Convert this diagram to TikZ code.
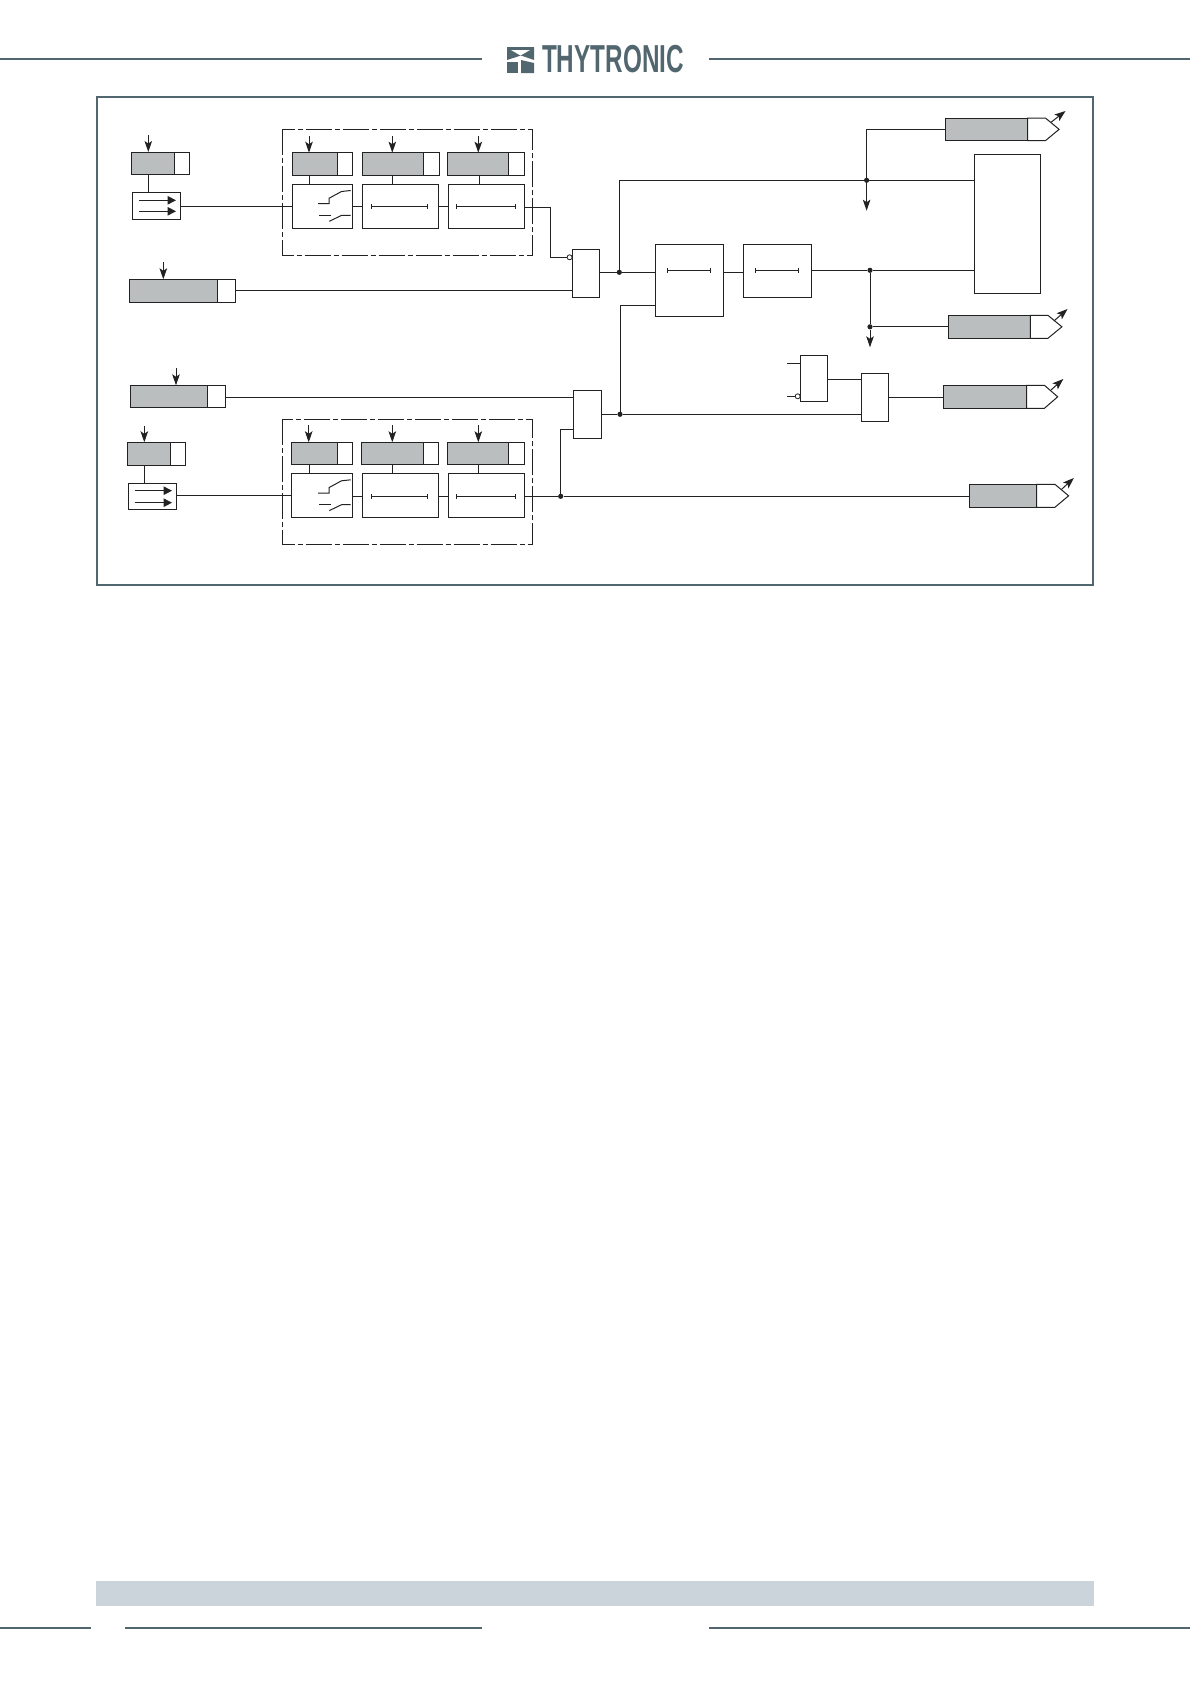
\documentclass[tikz,border=0pt]{standalone}
\usepackage{fontspec}
\setmainfont{Liberation Sans}
\usetikzlibrary{arrows.meta}
\definecolor{slate}{HTML}{51666F}
\definecolor{ink}{HTML}{222222}
\definecolor{midgray}{HTML}{BBBEBE}
\definecolor{barcol}{HTML}{CBD4DA}
\tikzset{
  wire/.style={draw=ink,line width=1pt},
  blockbox/.style={draw=ink,fill=white,line width=1pt,rectangle,inner sep=0pt,outer sep=0pt,anchor=north west},
  greybox/.style={blockbox,fill=midgray},
  downarrow/.style={wire,-{Stealth[length=11pt,width=7.5pt,inset=2.5pt]}},
  uparrow/.style={wire,-{Stealth[length=11pt,width=8pt,inset=2.5pt]}},
  innerarrow/.style={wire,-{Triangle[length=8.5pt,width=8.5pt]}},
  framerule/.style={draw=slate,line width=2pt},
  zone/.style={draw=ink,line width=1pt,dash pattern=on 26pt off 3pt on 5pt off 3pt},
  dotjoin/.style={circle,fill=ink,inner sep=0pt,minimum size=5.2pt},
  bubble/.style={circle,draw=ink,fill=white,line width=0.8pt,inner sep=0pt,minimum size=5pt}
}
% name x1 y1 x2 y2
\newcommand{\blk}[5]{\node[blockbox,minimum width={#4-#2},minimum height={#5-#3}] (#1) at (#2,#3) {};}
% name x1 xm x2 y1 y2
\newcommand{\param}[6]{%
  \node[blockbox,minimum width={#4-#3},minimum height={#6-#5}] (#1w) at (#3,#5) {};
  \node[greybox,minimum width={#3-#2},minimum height={#6-#5}] (#1) at (#2,#5) {};}
% name x1 xm x2 xtip y1 y2 : output block with pointed end
\newcommand{\outblk}[7]{%
  \node[greybox,minimum width={#3-#2},minimum height={#7-#6}] (#1) at (#2,#6) {};
  \coordinate (#1tip) at (#5,{(#6+#7)/2});
  \draw[wire,fill=white] (#3,#6) -- (#4,#6) -- (#1tip) -- (#4,#7) -- (#3,#7) -- cycle;}
% name x ytop : arrow down into block
\newcommand{\inarr}[3]{\coordinate (#1in) at (#2,#3); \draw[downarrow] (#1in) -- (#1in |- #1.north);}
% name x : stub from param block to block below
\newcommand{\stub}[3]{\coordinate (#1k) at (#2,0); \draw[wire] (#1k |- #1.south) -- (#1k |- #3.north);}
% name x1 x2 y : timer bar
\newcommand{\timer}[4]{\coordinate (#1a) at (#2,#4); \coordinate (#1b) at (#3,#4);
  \draw[wire,{Bar[width=5pt,length=0.9pt]}-{Bar[width=5pt,length=0.9pt]}] (#1a) -- (#1b);}
% dy : switch symbol, y offset
\newcommand{\switchsym}[2]{%
  \draw[wire] (#1+318,#2+203.7) -- (#1+329,#2+203.7) -- (#1+329,#2+198.3) -- (#1+341.5,#2+191.5) -- (#1+350.7,#2+190.5);
  \draw[wire] (#1+319,#2+215.3) -- (#1+330.7,#2+215.3);
  \draw[wire] (#1+329.3,#2+221.3) -- (#1+341.7,#2+215.3) -- (#1+350.7,#2+215.3);}
\begin{document}
\begin{tikzpicture}[x=1pt,y=-1pt]
\useasboundingbox[fill=white] (0,0) rectangle (1190,1684);

% page furniture
\coordinate (hla) at (0,59); \coordinate (hlb) at (482,59);
\coordinate (hra) at (709,59); \coordinate (hrb) at (1190,59);
\draw[framerule] (hla) -- (hlb);
\draw[framerule] (hra) -- (hrb);
\fill[slate] (507,47) -- (534,47) -- (534,60) -- (521,55.5) -- (507,60) -- cycle;
\fill[white] (511,50) -- (530,50) -- (520.5,55.5) -- cycle;
\fill[slate] (507,62) rectangle (518,73);
\fill[slate] (521,60) -- (534,63) -- (534,73) -- (521,73) -- cycle;
\node[anchor=center,text=slate,inner sep=0pt,xscale=0.623,font=\fontsize{39}{39}\selectfont\bfseries] (logotext) at (613,59.5) {THYTRONIC};
\draw[framerule] (97,96.7) rectangle (1093,585);
\fill[barcol] (95.6,1581) rectangle (1094,1606);
\draw[framerule] (0,1627.7) -- (91,1627.7);
\draw[framerule] (125,1627.7) -- (482,1627.7);
\draw[framerule] (709,1627.7) -- (1190,1627.7);

% dash-dot zones
\draw[zone] (282.7,129.3) rectangle (532.7,255.3);
\draw[zone] (282.7,419.3) rectangle (532.7,544.3);

% upper left
\param{Aa}{131.3}{174.3}{189.3}{152}{174.7}
\inarr{Aa}{148.3}{135}
\blk{Ba}{132.3}{192.3}{180.7}{219.3}
\stub{Aa}{148.3}{Ba}
\coordinate (Baone) at (139,200.3); \coordinate (Batwo) at (139,211.3);
\draw[innerarrow] (Baone) -- (176,200.3);
\draw[innerarrow] (Batwo) -- (176,211.3);

\param{Sa}{292.3}{337.3}{352.3}{152.7}{175.3}
\param{Sb}{362}{423.7}{439.3}{152.7}{175.3}
\param{Sc}{447.3}{508.7}{524.7}{152.7}{175.3}
\inarr{Sa}{309}{136}
\inarr{Sb}{392.3}{136}
\inarr{Sc}{478.3}{136}
\blk{Ca}{292.3}{184.3}{352.3}{228.3}
\blk{Cb}{362.3}{184.3}{438.3}{228.3}
\blk{Cc}{448.3}{184.3}{524.7}{228.3}
\stub{Sa}{309.3}{Ca}
\stub{Sb}{392.3}{Cb}
\stub{Sc}{479.3}{Cc}
\switchsym{0}{0}
\timer{Tb}{370.7}{427.7}{206.3}
\timer{Tc}{456.3}{515.7}{206.3}

% second setting
\param{Da}{129.3}{217.7}{235.7}{279.3}{302.3}
\inarr{Da}{163.3}{262.3}

% gate 1
\blk{Ga}{572.3}{249.3}{599.6}{297.3}
\node[bubble] (Gabub) at (569.6,257.3) {};

% third setting
\param{Db}{130.3}{207.7}{225.7}{385.3}{407.7}
\inarr{Db}{176}{368.3}

% lower left
\param{Ab}{127.3}{170.3}{185.7}{442.3}{465.3}
\inarr{Ab}{144.3}{425.7}
\blk{Bb}{128.3}{483.3}{176.7}{509.7}
\stub{Ab}{144.3}{Bb}
\coordinate (Bbone) at (134.7,490.7); \coordinate (Bbtwo) at (134.7,502.7);
\draw[innerarrow] (Bbone) -- (172,490.7);
\draw[innerarrow] (Bbtwo) -- (172,502.7);

\param{Sd}{291.3}{337}{352.3}{442.3}{464.7}
\param{Se}{361.7}{423.7}{438.7}{442.3}{464.7}
\param{Sf}{447.3}{508.7}{524.7}{442.3}{464.7}
\inarr{Sd}{308.7}{425}
\inarr{Se}{392.3}{425}
\inarr{Sf}{478.3}{425}
\blk{Cd}{291.3}{473.3}{352.3}{517.3}
\blk{Ce}{362.3}{473.3}{438.3}{517.3}
\blk{Cf}{448.3}{473.3}{524.7}{517.3}
\stub{Sd}{309.3}{Cd}
\stub{Se}{392.3}{Ce}
\stub{Sf}{478.3}{Cf}
\switchsym{0}{289.3}
\timer{Te}{370.7}{427.7}{496.3}
\timer{Tf}{456.3}{515.7}{496.3}

% gate 2 and central blocks
\blk{Gb}{573.3}{390.3}{601.7}{438.7}
\blk{Ea}{655.4}{244.3}{723.8}{316.7}
\blk{Eb}{743.4}{244.3}{811.5}{297.3}
\timer{Td}{667.3}{710.8}{270.3}
\timer{Tg}{755.4}{798.9}{270.3}
\blk{Fa}{974.2}{154.3}{1040.2}{293.3}
\blk{Ha}{800.3}{355}{827.6}{401.7}
\blk{Hb}{861.3}{373.3}{888.7}{421.3}
\node[bubble] (Habub) at (797.7,396.3) {};

% output blocks
\outblk{Oa}{945.5}{1027.5}{1045.4}{1059.1}{118}{140.7}
\outblk{Ob}{948.3}{1030.4}{1047.9}{1061.9}{315.3}{338.3}
\outblk{Oc}{943.7}{1026.5}{1044.4}{1057.7}{385.3}{408.3}
\outblk{Od}{969.3}{1036.7}{1054.9}{1068.6}{484.3}{507.3}
\coordinate (Oaa) at (1051,122.3); \coordinate (Oab) at (1065.5,111);
\coordinate (Oba) at (1053.9,321); \coordinate (Obb) at (1067.5,309);
\coordinate (Oca) at (1051,390); \coordinate (Ocb) at (1063.3,379);
\coordinate (Oda) at (1061.6,489.3); \coordinate (Odb) at (1073.8,478);
\draw[uparrow] (Oaa) -- (Oab);
\draw[uparrow] (Oba) -- (Obb);
\draw[uparrow] (Oca) -- (Ocb);
\draw[uparrow] (Oda) -- (Odb);

% junctions
\node[dotjoin] (Ja) at (619.3,272.3) {};
\node[dotjoin] (Jb) at (866.6,180.3) {};
\node[dotjoin] (Jc) at (870,270.3) {};
\node[dotjoin] (Jd) at (870,326.8) {};
\node[dotjoin] (Je) at (620,414.3) {};
\node[dotjoin] (Jf) at (560.7,496.3) {};
\coordinate (tipb) at (866.6,210.7);
\coordinate (tipc) at (870,347.3);
\coordinate (Hain) at (787.3,363.3);
\coordinate (Haia) at (787.3,396.3);

% connectors, left half
\draw[wire] (Ba.east |- 0,206.3) -- (Ca.west |- 0,206.3);
\draw[wire] (Ca.east |- 0,206.3) -- (Cb.west |- 0,206.3);
\draw[wire] (Cb.east |- 0,206.3) -- (Cc.west |- 0,206.3);
\draw[wire] (Cc.east |- 0,207.3) -- (550.3,207.3) -- (550.3,257.3) -- (Gabub.west);
\draw[wire] (Daw.east |- 0,290.3) -- (Ga.west |- 0,290.3);
\draw[wire] (Dbw.east |- 0,397.3) -- (Gb.west |- 0,397.3);
\draw[wire] (Bb.east |- 0,495.3) -- (Cd.west |- 0,495.3);
\draw[wire] (Cd.east |- 0,496.3) -- (Ce.west |- 0,496.3);
\draw[wire] (Ce.east |- 0,496.3) -- (Cf.west |- 0,496.3);
\draw[wire] (Cf.east |- 0,496.3) -- (Jf);
\draw[wire] (Jf) -- (Od.west |- Jf);
\draw[wire] (Jf) -- (Jf |- 0,429.3) -- (Gb.west |- 0,429.3);

% connectors, right half
\draw[wire] (Ga.east |- Ja) -- (Ja);
\draw[wire] (Ja) -- (Ea.west |- Ja);
\draw[wire] (Ja) -- (Ja |- Jb) -- (Jb);
\draw[wire] (Jb) -- (Fa.west |- Jb);
\draw[wire] (Jb) -- (Jb |- Oa.west) -- (Oa.west);
\draw[downarrow] (Jb) -- (tipb);
\draw[wire] (Ea.east |- Ja) -- (Eb.west |- Ja);
\draw[wire] (Eb.east |- Jc) -- (Jc);
\draw[wire] (Jc) -- (Fa.west |- Jc);
\draw[wire] (Jc) -- (Jd);
\draw[wire] (Jd) -- (Ob.west |- Jd);
\draw[downarrow] (Jd) -- (tipc);
\draw[wire] (Ea.west |- 0,305.3) -- (Je |- 0,305.3) -- (Je);
\draw[wire] (Gb.east |- Je) -- (Je);
\draw[wire] (Je) -- (Hb.west |- Je);
\draw[wire] (Ha.east |- 0,379.3) -- (Hb.west |- 0,379.3);
\draw[wire] (Hb.east |- 0,397.3) -- (Oc.west |- 0,397.3);
\draw[wire] (Hain) -- (Ha.west |- Hain);
\draw[wire] (Haia) -- (Habub.west);
\end{tikzpicture}
\end{document}
